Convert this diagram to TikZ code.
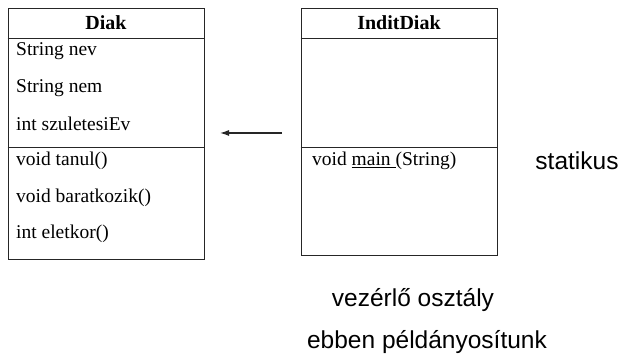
\documentclass[tikz,border=0pt]{standalone}
\usepackage{fontspec}
\newfontfamily\boxfont{Liberation Serif}
\newfontfamily\labelfont{Liberation Sans}
\usetikzlibrary{arrows.meta}
\tikzset{
  classbox/.style={draw=black!85, line width=1pt, inner sep=0pt, minimum width=196pt},
  member/.style={anchor=west, inner sep=0pt, font=\boxfont\fontsize{19.5}{21}\selectfont},
  classname/.style={inner sep=0pt, font=\boxfont\bfseries\fontsize{20}{22}\selectfont},
  remark/.style={inner sep=0pt, font=\labelfont\fontsize{24.5}{26}\selectfont}
}
\begin{document}
\begin{tikzpicture}[x=1pt,y=-1pt]
        \useasboundingbox (0,0) rectangle (625,355);

        % the two class boxes
        \node[classbox, minimum height=251pt] (diak) at (106,134.5) {};
        \node[classbox, minimum height=247pt] (indit) at (399,132.5) {};

        \draw[line width=1pt, black!85] (diak.west |- 0,39) -- (diak.east |- 0,39);
        \draw[line width=1pt, black!85] (diak.west |- 0,148) -- (diak.east |- 0,148);
        \draw[line width=1pt, black!85] (indit.west |- 0,39) -- (indit.east |- 0,39);
        \draw[line width=1pt, black!85] (indit.west |- 0,148) -- (indit.east |- 0,148);

        \node[classname] (diakname) at (106,23) {Diak};
        \node[classname] (inditname) at (399,23) {InditDiak};

        \node[member] (nev) at (16,51) {String nev};
        \node[member] (nem) at (16,88) {String nem};
        \node[member] (szev) at (16,124) {int szuletesiEv};
        \node[member] (tanul) at (16,161) {void tanul()};
        \node[member] (barat) at (16,198) {void baratkozik()};
        \node[member] (kor) at (16,234) {int eletkor()};

        \node[member] (main) at (312,161) {void \underline{main\ }(String)};

        % arrow between the boxes
        \coordinate (arrfrom) at (282,133);
        \coordinate (arrto) at (220,133);
        \draw[line width=1.2pt, black!85, -{Latex[length=9pt,width=6pt]}] (arrfrom) -- (arrto);

        \node[remark] (stat) at (577,161) {statikus};
        \node[remark] (vez) at (413,300) {vezérlő osztály};
        \node[remark] (peld) at (427,342) {ebben példányosítunk};
    \end{tikzpicture}
\end{document}
